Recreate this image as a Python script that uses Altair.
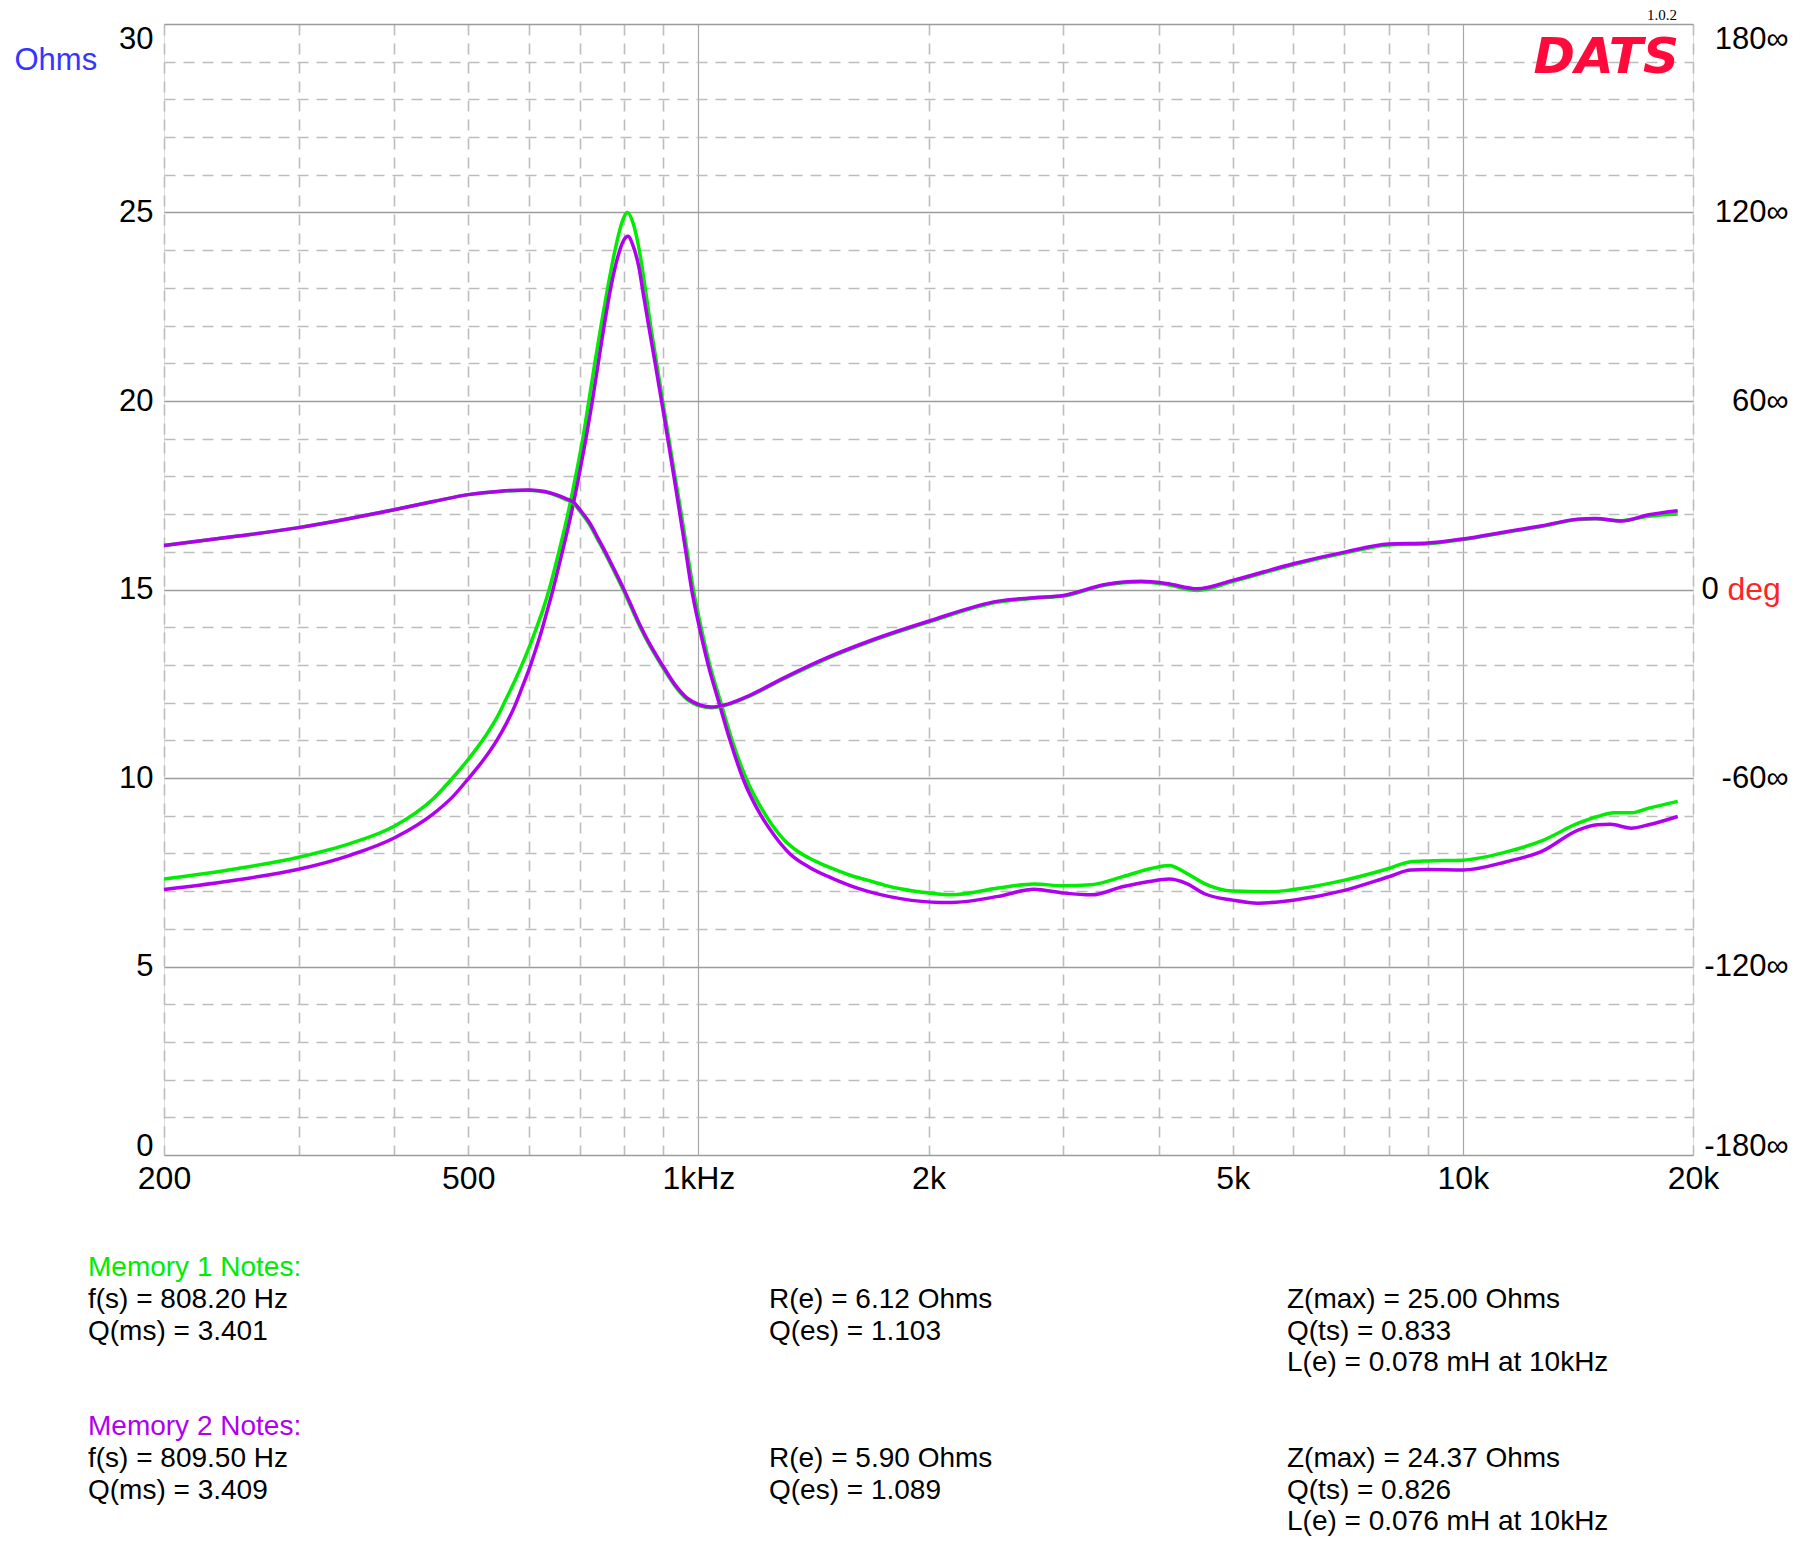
import altair as alt
import pandas as pd

# ---------------- data ----------------
# impedance, Memory 1 (green)
z1_freq = [200, 250, 300, 350, 400, 450, 477, 503, 527, 545, 559, 576, 590, 603, 615, 627, 638,
           657, 675, 691, 706, 719, 732, 746, 761, 778, 792, 808, 822, 837, 852, 866, 882, 898, 915,
           932, 950, 967, 985, 1008, 1035, 1070, 1105, 1154, 1226, 1296, 1350, 1420, 1505, 1580, 1664,
           1750, 1838, 2000, 2144, 2468, 2748, 3000, 3266, 3598, 3910, 4126, 4353, 4592, 5000, 5570,
           6000, 7000, 8000, 8550, 9000, 10000, 11400, 12700, 14150, 15000, 15750, 16600, 17500, 19100]
z1_ohms = [7.32, 7.6, 7.9, 8.26, 8.72, 9.45, 10.0, 10.56, 11.12, 11.6, 12.05, 12.6, 13.08, 13.55, 14.02, 14.5, 15.0,
           16.0, 17.0, 18.0, 19.0, 20.0, 21.0, 22.0, 23.0, 24.0, 24.65, 25.0, 24.7, 24.0, 23.0, 22.0, 21.0, 20.0, 19.0,
           18.0, 17.0, 16.0, 15.0, 14.0, 13.0, 12.0, 11.05, 10.0, 9.0, 8.35, 8.05, 7.8, 7.58, 7.42, 7.29,
           7.16, 7.06, 6.95, 6.90, 7.08, 7.19, 7.14, 7.17, 7.39, 7.6, 7.68, 7.47, 7.2, 7.0, 6.98,
           7.04, 7.29, 7.6, 7.78, 7.8, 7.82, 8.04, 8.34, 8.8, 8.98, 9.08, 9.08, 9.2, 9.38]

# impedance, Memory 2 (purple)
z2_freq = [200, 250, 300, 350, 400, 450, 477, 500, 523, 545, 561, 575, 588, 601, 613, 624, 634, 644,
           662, 680, 697, 712, 726, 739, 753, 768, 786, 798, 809, 822, 836, 847, 861, 878, 895, 912,
           929, 946, 963, 980, 1003, 1030, 1064, 1100, 1143, 1208, 1260, 1316, 1400, 1505, 1614, 1720,
           1838, 2073, 2144, 2468, 2748, 3000, 3266, 3598, 3910, 4126, 4353, 4592, 5000, 5390, 6000,
           7000, 8000, 8550, 9000, 10000, 11400, 12700, 14150, 15000, 15600, 16600, 17500, 19100]
z2_ohms = [7.04, 7.3, 7.58, 7.95, 8.41, 9.05, 9.5, 9.98, 10.47, 11.0, 11.45, 11.9, 12.4, 12.9, 13.42, 13.92, 14.42, 14.92,
           15.9, 16.9, 17.95, 18.95, 19.95, 20.95, 22.0, 23.0, 23.88, 24.25, 24.37, 24.1, 23.55, 22.85, 22.0, 21.0, 20.0, 19.0,
           18.0, 17.0, 16.0, 15.0, 14.0, 13.0, 12.0, 11.0, 10.0, 9.0, 8.45, 8.0, 7.62, 7.32, 7.08, 6.92,
           6.8, 6.70, 6.70, 6.86, 7.05, 6.95, 6.90, 7.12, 7.26, 7.32, 7.2, 6.93, 6.76, 6.68, 6.76,
           7.02, 7.38, 7.56, 7.57, 7.56, 7.78, 8.06, 8.62, 8.76, 8.77, 8.67, 8.76, 8.98]

# phase (degrees), both memories share one frequency list
ph_freq = [200, 250, 300, 350, 400, 450, 500, 550, 600, 630, 651, 670, 688, 700, 720, 740, 753, 776,
           800, 820, 839, 860, 880, 900, 934, 965, 1006, 1040, 1080, 1160, 1292, 1439, 1691, 2000,
           2468, 2748, 3000, 3406, 3799, 4096, 4494, 5000, 6000, 7000, 8000, 9000, 10000, 11400,
           12700, 14150, 14900, 16100, 17500, 19100]
ph1_deg = [14.0, 17.0, 19.7, 22.6, 25.4, 28.0, 30.2, 31.2, 31.6, 31.0, 30.0, 28.7, 27.2, 24.9, 20.8, 15.5, 12.1, 5.8,
           -0.8, -6.6, -11.9, -17.0, -21.2, -25.1, -31.0, -34.8, -37.1, -37.6, -37.0, -34.2, -28.5, -23.1, -16.3, -10.4,
           -4.0, -2.8, -2.1, 1.4, 2.4, 1.6, -0.3, 2.5, 7.9, 11.6, 14.2, 14.6, 15.9, 18.2,
           20.1, 22.3, 22.5, 21.9, 23.3, 24.0]
ph2_deg = [14.0, 17.0, 19.7, 22.6, 25.4, 28.0, 30.2, 31.3, 31.7, 31.2, 30.2, 29.0, 27.6, 25.4, 21.4, 16.1, 12.7, 6.4,
           -0.2, -6.0, -11.4, -16.5, -20.7, -24.6, -30.6, -34.4, -36.8, -37.4, -36.8, -34.0, -28.2, -22.8, -16.0, -10.1,
           -3.7, -2.6, -1.9, 1.6, 2.6, 1.9, 0.2, 2.9, 8.2, 11.9, 14.5, 14.8, 16.1, 18.4,
           20.3, 22.4, 22.6, 21.8, 23.8, 25.1]

series_names = ["Memory 1", "Memory 2"]
series_colors = ["#00ec00", "#b000f0"]

x_grid_values = [200, 300, 400, 500, 600, 700, 800, 900, 1000, 2000, 3000, 4000, 5000,
                 6000, 7000, 8000, 9000, 10000, 20000]
x_label_values = [200, 500, 1000, 2000, 5000, 10000, 20000]
x_label_texts = ["200", "500", "1kHz", "2k", "5k", "10k", "20k"]
y_grid_values = list(range(0, 31))
deg_values = [-180, -120, -60, 0, 60, 120, 180]

note_titles = ["Memory 1 Notes:", "Memory 2 Notes:"]
note_fs = ["808.20", "809.50"]
note_qms = ["3.401", "3.409"]
note_re = ["6.12", "5.90"]
note_qes = ["1.103", "1.089"]
note_zmax = ["25.00", "24.37"]
note_qts = ["0.833", "0.826"]
note_le = ["0.078", "0.076"]

# ---------------- tables ----------------
rows_z = []
for name, fs_, zs in zip(series_names, [z1_freq, z2_freq], [z1_ohms, z2_ohms]):
    for f, z in zip(fs_, zs):
        rows_z.append({"freq": f, "ohms": z, "series": name})
rows_p = []
for name, ps in zip(series_names, [ph1_deg, ph2_deg]):
    for f, p in zip(ph_freq, ps):
        rows_p.append({"freq": f, "deg": p, "series": name})
df_z = pd.DataFrame(rows_z)
df_p = pd.DataFrame(rows_p)
df_one = pd.DataFrame({"k": [0]})

W, H = 1529, 1131
FONT = "Liberation Sans"

x_label_expr = " : ".join(
    f"datum.value == {v} ? '{t}'" for v, t in zip(x_label_values, x_label_texts)) + " : ''"
major_x = "datum.value == 1000 || datum.value == 10000"

x_axis = alt.Axis(
    values=x_grid_values, labelExpr=x_label_expr, title=None,
    grid=True, ticks=False, tickSize=0, domain=False,
    labelFlush=False, labelOverlap=False, labelPadding=8,
    labelFont=FONT, labelFontSize=32, labelColor="black",
    gridDash={"condition": {"test": major_x, "value": []}, "value": [11, 8]},
    gridColor={"condition": {"test": major_x, "value": "#a8a8a8"}, "value": "#bdbdbd"},
    gridWidth={"condition": {"test": major_x, "value": 1.2}, "value": 1.6},
)
x_scale = alt.Scale(type="log", domain=[200, 20000], nice=False)

color_enc = alt.Color("series:N", scale=alt.Scale(domain=series_names, range=series_colors), legend=None)

imp = alt.Chart(df_z).mark_line(interpolate="monotone", strokeWidth=3.5).encode(
    x=alt.X("freq:Q", scale=x_scale, axis=x_axis),
    y=alt.Y(
        "ohms:Q",
        scale=alt.Scale(domain=[0, 30], nice=False, zero=False),
        axis=alt.Axis(
            values=y_grid_values,
            labelExpr="datum.value % 5 === 0 ? '' + datum.value : ''",
            grid=True, ticks=False, tickSize=0, domain=False,
            labelFlush=False, labelOverlap=False, labelPadding=11,
            labelFont=FONT, labelFontSize=31, labelColor="black",
            labelBaseline={"condition": [{"test": "datum.value === 30", "value": "top"},
                                         {"test": "datum.value === 0", "value": "alphabetic"}],
                           "value": "middle"},
            gridDash={"condition": {"test": "datum.value % 5 === 0", "value": []}, "value": [11, 8]},
            gridColor={"condition": {"test": "datum.value % 5 === 0", "value": "#9c9c9c"},
                       "value": "#bdbdbd"},
            gridWidth=1.6,
            title="Ohms", titleAngle=0, titleAlign="left", titleBaseline="alphabetic",
            titleX=-150, titleY=45, titleColor="#3535ff", titleFont=FONT,
            titleFontSize=31, titleFontWeight="normal",
        ),
    ),
    color=color_enc,
)

phase = alt.Chart(df_p).mark_line(interpolate="monotone", strokeWidth=3.5).encode(
    x=alt.X("freq:Q", scale=x_scale, axis=x_axis),
    y=alt.Y(
        "deg:Q",
        scale=alt.Scale(domain=[-180, 180], nice=False, zero=False),
        axis=alt.Axis(
            orient="right", values=deg_values,
            labelExpr="datum.value === 0 ? '0' : datum.value + '\u221e'",
            grid=False, ticks=False, tickSize=0, domain=False,
            labelFlush=False, labelOverlap=False,
            labelPadding={"condition": {"test": "datum.value === 0", "value": 8}, "value": 95},
            labelAlign={"condition": {"test": "datum.value === 0", "value": "left"}, "value": "right"},
            labelBaseline={"condition": [{"test": "datum.value === 180", "value": "top"},
                                         {"test": "datum.value === -180", "value": "alphabetic"}],
                           "value": "middle"},
            labelFont=FONT, labelFontSize=31, labelColor="black",
            title="deg", titleAngle=0, titleAlign="left", titleBaseline="alphabetic",
            titleX=34, titleY=575, titleColor="#ff2424", titleFont=FONT,
            titleFontSize=32, titleFontWeight="normal",
        ),
    ),
    color=color_enc,
)


def text_layer(lines, x, y, color="black", size=28, font=FONT, **kw):
    return alt.Chart(df_one).mark_text(
        text=lines, align=kw.pop("align", "left"), baseline="alphabetic", font=font,
        fontSize=size, lineHeight=31.6, color=color, **kw
    ).encode(x=alt.value(x), y=alt.value(y))


layers = [imp, phase]

# logo and version
layers.append(text_layer("DATS", 1515, 49, color="#ff0a3a", size=50, font="DejaVu Sans",
                         fontWeight="bold", fontStyle="oblique", align="right"))
layers.append(text_layer("1.0.2", 1513, -4, color="black", size=15, font="Liberation Serif",
                         align="right"))

# notes
group_y = [1252, 1411]
for i in range(2):
    y0 = group_y[i]
    layers.append(text_layer(note_titles[i], -76, y0, color=series_colors[i]))
    layers.append(text_layer([f"f(s) = {note_fs[i]} Hz", f"Q(ms) = {note_qms[i]}"], -76, y0 + 32))
    layers.append(text_layer([f"R(e) = {note_re[i]} Ohms", f"Q(es) = {note_qes[i]}"], 605, y0 + 32))
    layers.append(text_layer([f"Z(max) = {note_zmax[i]} Ohms", f"Q(ts) = {note_qts[i]}",
                              f"L(e) = {note_le[i]} mH at 10kHz"], 1123, y0 + 32))

chart = alt.layer(*layers).resolve_scale(y="independent").properties(
    width=W, height=H,
    padding={"left": 156, "top": 16, "right": 99, "bottom": 392},
    autosize=alt.AutoSizeParams(type="none"),
).configure_view(stroke="#727272", strokeWidth=2).configure(background="white")

chart.save("out.html", embed_options={"renderer": "svg", "actions": False})
